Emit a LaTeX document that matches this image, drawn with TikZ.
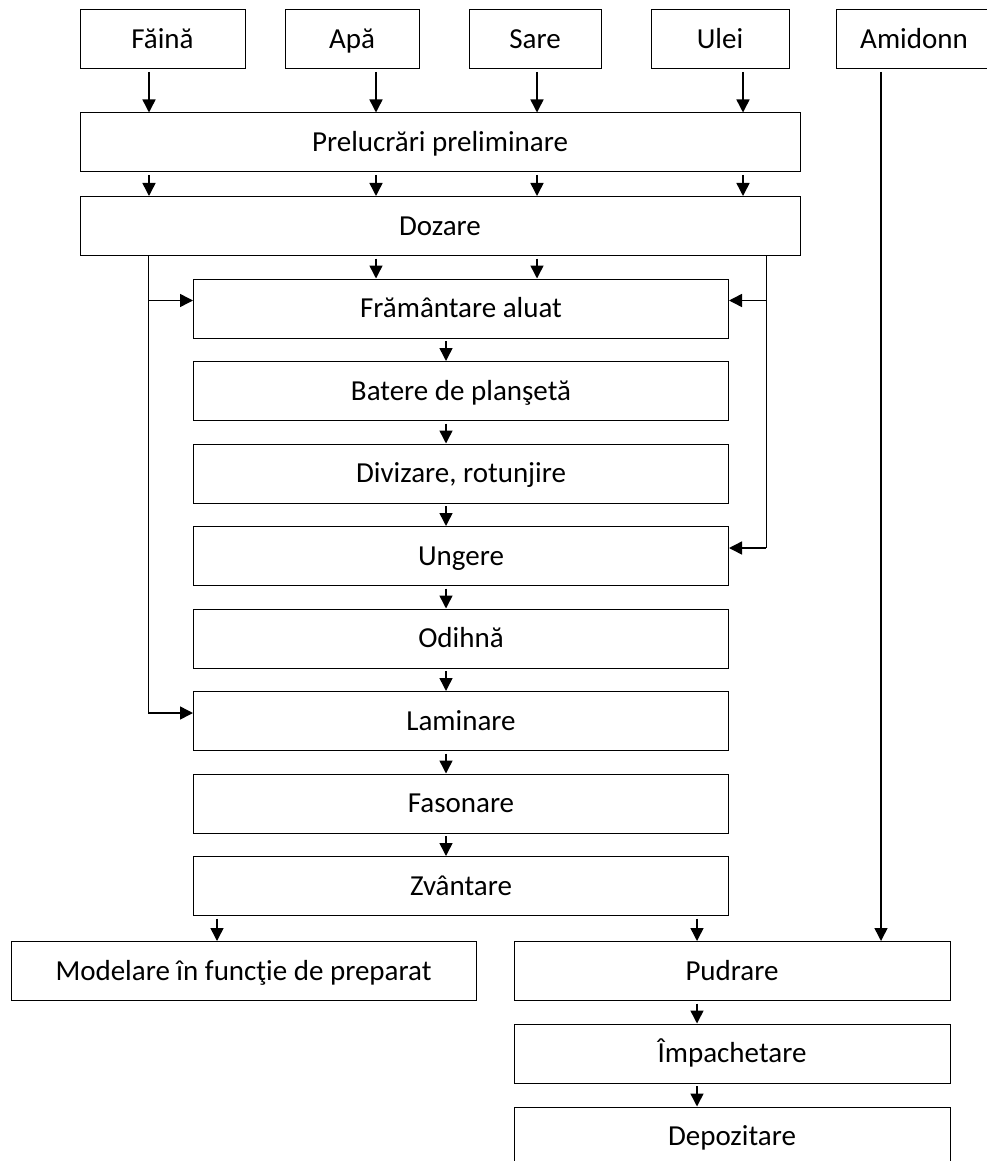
\documentclass[tikz,border=0pt]{standalone}
\usepackage{fontspec}
\setmainfont{Carlito}
\usepackage{tikz}
\usetikzlibrary{arrows.meta,positioning,calc}
\tikzset{block/.style={draw=black,line width=1pt,minimum height=59pt,inner sep=0pt,text height=18.5pt,text depth=0pt,align=center,font=\fontsize{29}{34}\selectfont},arr/.style={-{Triangle[length=13pt,width=13pt]},line width=1.5pt},link/.style={draw=black,line width=1pt},down/.style={arr,shorten <=2.5pt}}
\begin{document}
\begin{tikzpicture}[x=1pt,y=-1pt]
\useasboundingbox (0,0) rectangle (987,1161);
\foreach \x/\w/\id/\txt in {162.5/165/fai/Făină,352/134/apa/Apă,535/132/sare/Sare,720/138/ulei/Ulei,914/156/amid/Amidonn}{\node[block,minimum width=\w pt] (\id) at (\x,39.5) {\txt};}
\node[block,minimum width=720pt] (prel) at (440,142.5) {Prelucrări preliminare};
\node[block,minimum width=720pt] (doz) at (440,226) {Dozare};
\foreach \y/\id/\txt in {308.5/fram/Frământare aluat,391/bat/Batere de planşetă,473.5/div/{Divizare, rotunjire},556/ung/Ungere,638.5/odi/Odihnă,721/lam/Laminare,803.5/fas/Fasonare,886/zva/Zvântare}{\node[block,minimum width=535pt] (\id) at (461,\y) {\txt};}
\node[block,minimum width=465pt] (mod) at (243.5,971) {Modelare în funcţie de preparat};
\node[block,minimum width=436pt] (pud) at (732,971) {Pudrare};
\node[block,minimum width=436pt] (imp) at (732,1053.5) {Împachetare};
\node[block,minimum width=436pt] (dep) at (732,1136.5) {Depozitare};
\foreach \n/\x in {k1/149,k2/376,k3/537,k4/743,kc/446,kl/148,kr/766,km/217,kp/697,ka/881}{\coordinate (\n) at (\x,0);}
\foreach \i/\id in {1/fai,2/apa,3/sare,4/ulei}{\draw[down] (\id.south -| k\i) -- (prel.north -| k\i);\draw[down] (prel.south -| k\i) -- (doz.north -| k\i);}
\draw[down] (doz.south -| k2) -- (fram.north -| k2);
\draw[down] (doz.south -| k3) -- (fram.north -| k3);
\foreach \a/\b in {fram/bat,bat/div,div/ung,ung/odi,odi/lam,lam/fas,fas/zva}{\draw[down] (\a.south -| kc) -- (\b.north -| kc);}
\draw[link] (doz.south -| kl) -- ([yshift=8pt]lam.west -| kl);
\draw[arr] ([yshift=8pt]fram.west -| kl) -- ([yshift=8pt]fram.west);
\draw[arr] ([yshift=8pt]lam.west -| kl) -- ([yshift=8pt]lam.west);
\draw[link] (doz.south -| kr) -- ([yshift=8pt]ung.east -| kr);
\draw[arr] ([yshift=8pt]fram.east -| kr) -- ([yshift=8pt]fram.east);
\draw[arr] ([yshift=8pt]ung.east -| kr) -- ([yshift=8pt]ung.east);
\draw[down] (zva.south -| km) -- (mod.north -| km);
\draw[down] (zva.south -| kp) -- (pud.north -| kp);
\draw[down] (pud.south -| kp) -- (imp.north -| kp);
\draw[down] (imp.south -| kp) -- (dep.north -| kp);
\draw[down] (amid.south -| ka) -- (pud.north -| ka);
\end{tikzpicture}
\end{document}
